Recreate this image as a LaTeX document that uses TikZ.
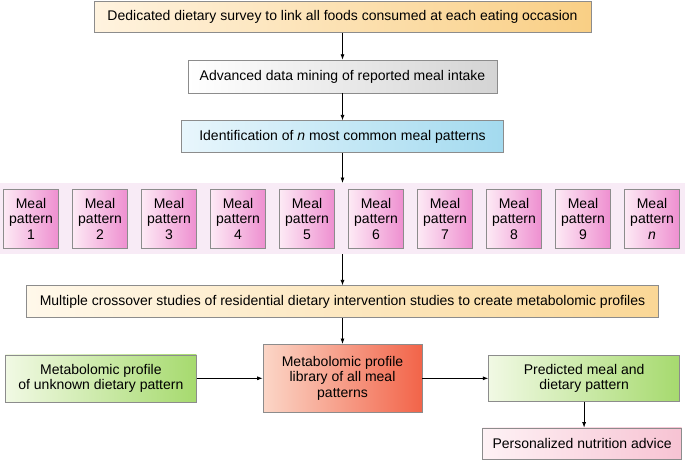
\documentclass[tikz,border=0pt]{standalone}
\usepackage{fontspec}
\setmainfont{Liberation Sans}
\usepackage{tikz}
\usetikzlibrary{arrows.meta, positioning}
\usepackage{xcolor}

\definecolor{edge}{HTML}{8C8C8C}
\definecolor{surveyL}{HTML}{FFF3DF}
\definecolor{surveyR}{HTML}{F9CF85}
\definecolor{miningR}{HTML}{D4D4D4}
\definecolor{identL}{HTML}{E8F6FC}
\definecolor{identR}{HTML}{A3DAEF}
\definecolor{mealL}{HTML}{FDEAF5}
\definecolor{mealR}{HTML}{EE8FD0}
\definecolor{bandfill}{HTML}{F8EBF6}
\definecolor{crossL}{HTML}{FFF8EA}
\definecolor{crossR}{HTML}{FAD796}
\definecolor{greenL}{HTML}{F1F9E4}
\definecolor{greenR}{HTML}{A6DA6E}
\definecolor{libL}{HTML}{FBD6C7}
\definecolor{libR}{HTML}{F26449}
\definecolor{adviceL}{HTML}{FEF2F5}
\definecolor{adviceR}{HTML}{F7C3D3}

\begin{document}
\begin{tikzpicture}[
  x=1pt, y=-1pt,
  node distance=27pt,
  >=Latex,
  box/.style={draw=edge, line width=0.6pt, align=center, inner sep=0pt, font=\fontsize{14}{15.5}\selectfont},
  meal/.style={box, minimum width=55pt, minimum height=59pt, left color=mealL, right color=mealR},
  band/.style={fill=bandfill, inner sep=0pt, minimum width=685pt, minimum height=71pt},
  arrow/.style={-{Latex[length=5.5pt, width=4pt]}, line width=0.8pt, draw=black}
]
  \useasboundingbox (0,0) rectangle (685,459);

  % Colonne principale
  \node[box, minimum width=497pt, minimum height=31pt, left color=surveyL, right color=surveyR] (survey) at (342.5,17)
    {Dedicated dietary survey to link all foods consumed at each eating occasion};
  \node[box, below=of survey, minimum width=309pt, minimum height=33pt, left color=white, right color=miningR] (mining)
    {Advanced data mining of reported meal intake};
  \node[box, below=of mining, minimum width=322pt, minimum height=32pt, left color=identL, right color=identR] (ident)
    {Identification of \textit{n} most common meal patterns};

  % Bande des meal patterns
  \node[band, below=30pt of ident] (band) {};
  \foreach \i/\lab in {1/1, 2/2, 3/3, 4/4, 5/5, 6/6, 7/7, 8/8, 9/9, 10/\textit{n}}
    \node[meal] (m\i) at ({31+69*(\i-1)}, 218.5) {Meal\\pattern\\\lab};

  \node[box, below=31pt of band, minimum width=632pt, minimum height=32pt, left color=crossL, right color=crossR] (cross)
    {Multiple crossover studies of residential dietary intervention studies to create metabolomic profiles};

  % Ligne du bas
  \node[box, below=26pt of cross, minimum width=159pt, minimum height=68pt, left color=libL, right color=libR] (library)
    {Metabolomic profile\\library of all meal\\patterns};
  \node[box, left=66pt of library, minimum width=191pt, minimum height=47pt, left color=greenL, right color=greenR] (unknown)
    {Metabolomic profile\\of unknown dietary pattern};
  \node[box, right=66pt of library, minimum width=191pt, minimum height=46pt, left color=greenL, right color=greenR] (predicted)
    {Predicted meal and\\dietary pattern};
  \node[box, below=26pt of predicted, xshift=-2pt, minimum width=199pt, minimum height=31pt, left color=adviceL, right color=adviceR] (advice)
    {Personalized nutrition advice};

  % Flèches
  \draw[arrow] (survey) -- (mining);
  \draw[arrow] (mining) -- (ident);
  \draw[arrow] (ident) -- (band);
  \draw[arrow] (band) -- (cross);
  \draw[arrow] (cross) -- (library);
  \draw[arrow] (unknown) -- (library);
  \draw[arrow] (library) -- (predicted);
  \draw[arrow] (predicted) -- (predicted |- advice.north);

\end{tikzpicture}
\end{document}
